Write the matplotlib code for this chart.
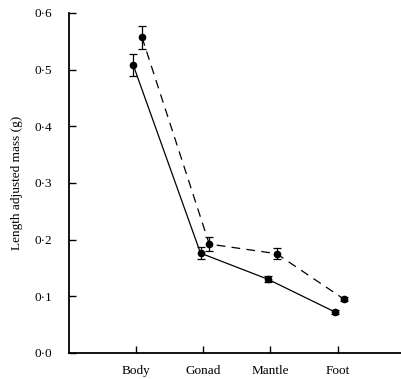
import matplotlib
matplotlib.use("Agg")
import matplotlib.pyplot as plt
import numpy as np

categories = ["Body", "Gonad", "Mantle", "Foot"]
solid_vals = [0.508, 0.176, 0.130, 0.072]
solid_err = [0.020, 0.010, 0.005, 0.004]
dashed_vals = [0.557, 0.192, 0.175, 0.095]
dashed_err = [0.020, 0.012, 0.010, 0.004]
yticks = [0.0, 0.1, 0.2, 0.3, 0.4, 0.5, 0.6]
ytick_labels = ["0·0", "0·1", "0·2", "0·3", "0·4", "0·5", "0·6"]

plt.rcParams['font.family'] = ['Liberation Serif', 'DejaVu Serif']

fig = plt.figure(figsize=(4.01, 3.79), dpi=100)
ax = fig.add_axes([0.172, 0.069, 0.828, 0.897])

x = np.arange(len(categories))
ax.errorbar(x - 0.04, solid_vals, yerr=solid_err, color='black', lw=0.9,
            marker='o', ms=4.5, capsize=3, elinewidth=0.9, capthick=0.9)
ax.errorbar(x + 0.09, dashed_vals, yerr=dashed_err, color='black', lw=0.9,
            ls=(0, (7, 5)), marker='o', ms=4.5, capsize=3, elinewidth=0.9, capthick=0.9)

ax.set_xlim(-0.995, 3.94)
ax.set_ylim(0, 0.6)
ax.set_xticks(x)
ax.set_xticklabels(categories, fontsize=9.5)
ax.set_yticks(yticks)
ax.set_yticklabels(ytick_labels, fontsize=9.5)
ax.tick_params(direction='in', length=5, width=1)
ax.tick_params(axis='y', pad=12)
ax.tick_params(axis='x', pad=9)
ax.set_ylabel("Length adjusted mass (g)", fontsize=9.5, labelpad=8)
for s in ['top', 'right']:
    ax.spines[s].set_visible(False)
ax.spines['left'].set_linewidth(1.3)
ax.spines['bottom'].set_linewidth(1.3)

fig.savefig("out.png", dpi=100)
